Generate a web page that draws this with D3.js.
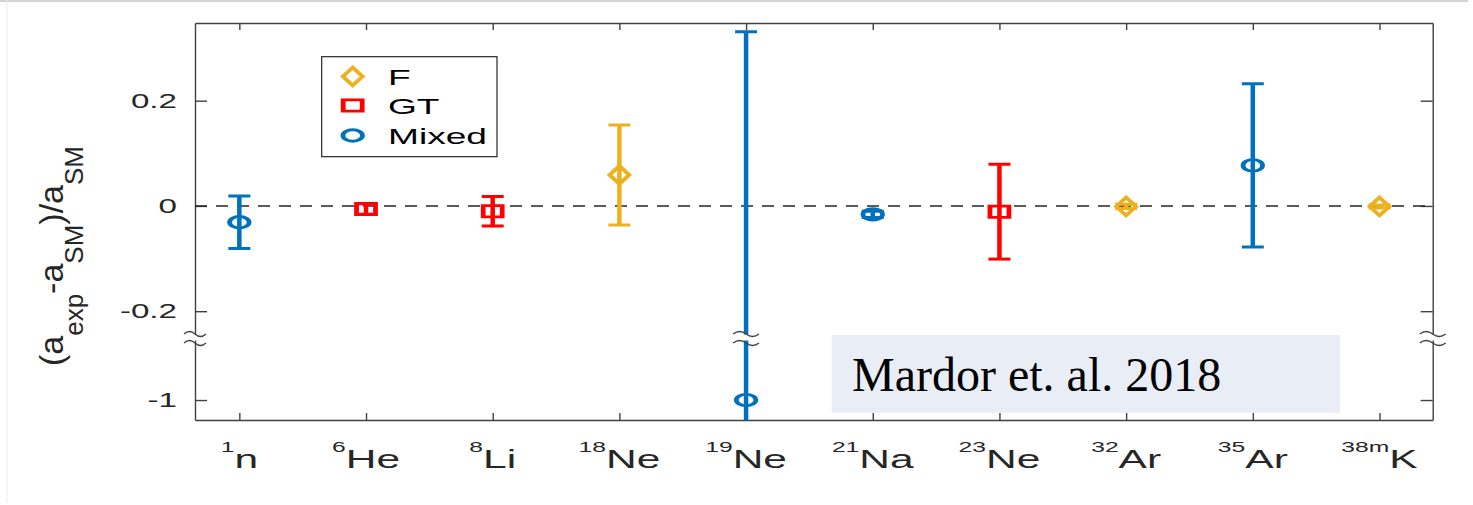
<!DOCTYPE html>
<html>
<head>
<meta charset="utf-8">
<script src="https://cdn.jsdelivr.net/npm/d3@7"></script>
<style>
  body { margin: 0; background: #fff; }
  text { font-family: "Liberation Sans", Arial, sans-serif; fill: #262626; }
</style>
</head>
<body>
<div id="chart"></div>
<script>
// ---- data ----
const massNumbers = ["1", "6", "8", "18", "19", "21", "23", "32", "35", "38m"];
const elements    = ["n", "He", "Li", "Ne", "Ne", "Na", "Ne", "Ar", "Ar", "K"];
const transitions = ["Mixed", "GT", "GT", "F", "Mixed", "Mixed", "GT", "F", "Mixed", "F"];
const values      = [-0.031, -0.006, -0.010, 0.059, -1.0, -0.016, -0.011, -0.001, 0.077, -0.001];
const errors      = [0.050, 0.010, 0.028, 0.095, 1.331, 0.006, 0.090, 0.004, 0.155, 0.003];

const yTicks      = [-1, -0.2, 0, 0.2];
const yTickLabels = ["-1", "-0.2", "0", "0.2"];
const legendItems = ["F", "GT", "Mixed"];

// ---- config ----
const W = 1473, H = 505;
const plot = { left: 195, right: 1432.7, top: 23, bottom: 420 };
const SX = 1.7;             // the original figure is stretched horizontally
const breakY = 337.5;       // axis break
const colors = { F: "#EDB120", GT: "#FF0000", Mixed: "#0072BD" };
const axisColor = "#404040";

const svg = d3.select("#chart").append("svg")
    .attr("width", W).attr("height", H)
    .style("display", "block");

svg.append("rect").attr("width", W).attr("height", H).attr("fill", "#fff");
// faint slide frame
svg.append("line").attr("x1", 0).attr("x2", 1468).attr("y1", 1).attr("y2", 1)
    .attr("stroke", "#c4c4c4").attr("stroke-width", 1.5);
svg.append("line").attr("x1", 7).attr("x2", 7).attr("y1", 0).attr("y2", 503)
    .attr("stroke", "#ececec").attr("stroke-width", 1);

// ---- scales ----
const x = d3.scaleLinear().domain([0.65, 10.42]).range([plot.left, plot.right]);
// broken y axis: lower panel around -1, upper panel -0.25..0.35
const y = d3.scaleLinear()
    .domain([-1.038, -0.881, -0.25, 0.3476])
    .range([plot.bottom, breakY, breakY, plot.top]);

svg.append("clipPath").attr("id", "plotclip")
  .append("rect")
    .attr("x", plot.left).attr("y", plot.top)
    .attr("width", plot.right - plot.left).attr("height", plot.bottom - plot.top);

// ---- axes ----
function styleAxis(g) {
    g.select(".domain").attr("stroke", axisColor).attr("stroke-width", 1.4);
    g.selectAll(".tick line").attr("stroke", axisColor).attr("stroke-width", 1.4);
    g.selectAll(".tick text").remove();
}
const idx = d3.range(1, 11);
svg.append("g").attr("transform", `translate(0,${plot.bottom})`)
    .call(d3.axisBottom(x).tickValues(idx).tickSize(-7).tickSizeOuter(0)).call(styleAxis);
svg.append("g").attr("transform", `translate(0,${plot.top})`)
    .call(d3.axisTop(x).tickValues(idx).tickSize(-7).tickSizeOuter(0)).call(styleAxis);
svg.append("g").attr("transform", `translate(${plot.left},0)`)
    .call(d3.axisLeft(y).tickValues(yTicks).tickSize(-12).tickSizeOuter(0)).call(styleAxis);
svg.append("g").attr("transform", `translate(${plot.right},0)`)
    .call(d3.axisRight(y).tickValues(yTicks).tickSize(-12).tickSizeOuter(0)).call(styleAxis);

// zero reference line
svg.append("line")
    .attr("x1", plot.left).attr("x2", plot.right)
    .attr("y1", y(0)).attr("y2", y(0))
    .attr("stroke", "#262626").attr("stroke-width", 1.5)
    .attr("stroke-dasharray", "12,9");

// y tick labels
yTicks.forEach((v, i) => {
    svg.append("text")
        .attr("transform", `translate(177,${y(v) + 7}) scale(${SX},1)`)
        .attr("text-anchor", "end")
        .style("font-size", "19.5px")
        .text(yTickLabels[i]);
});

// x tick labels with superscript mass numbers
idx.forEach((d, i) => {
    const t = svg.append("text")
        .attr("transform", `translate(${x(d)},468) scale(${SX},1)`)
        .attr("text-anchor", "middle");
    t.append("tspan").attr("dy", -16).style("font-size", "14.5px").text(massNumbers[i]);
    t.append("tspan").attr("dy", 16).style("font-size", "25px").text(elements[i]);
});

// y axis title
const yl = svg.append("text")
    .attr("transform", "translate(63,256) rotate(-90)")
    .attr("text-anchor", "middle")
    .style("font-size", "34px");
yl.append("tspan").text("(a");
yl.append("tspan").attr("dy", 20).style("font-size", "26px").text("exp");
yl.append("tspan").attr("dy", -20).text("-a");
yl.append("tspan").attr("dy", 20).style("font-size", "26px").text("SM");
yl.append("tspan").attr("dy", -20).text(")/a");
yl.append("tspan").attr("dy", 20).style("font-size", "26px").text("SM");

// ---- markers ----
const markerPath = {
    F: "M0,-9L5.8,0L0,9L-5.8,0Z",
    GT: d3.symbol().type(d3.symbolSquare).size(125)(),
    Mixed: d3.symbol().type(d3.symbolCircle).size(104)()
};

// ---- data: error bars + markers ----
const data = idx.map((d, i) => ({ i: d, v: values[i], e: errors[i], type: transitions[i] }));
const dataG = svg.append("g").attr("clip-path", "url(#plotclip)");

dataG.selectAll(".ebar").data(data).enter().append("line")
    .attr("class", "ebar")
    .attr("x1", d => x(d.i)).attr("x2", d => x(d.i))
    .attr("y1", d => y(d.v - d.e)).attr("y2", d => y(d.v + d.e))
    .attr("stroke", d => colors[d.type]).attr("stroke-width", 4.5);

["lo", "hi"].forEach(side => {
    dataG.selectAll(".cap-" + side).data(data).enter().append("line")
        .attr("class", "cap-" + side)
        .attr("x1", d => x(d.i) - 11).attr("x2", d => x(d.i) + 11)
        .attr("y1", d => y(side === "lo" ? d.v - d.e : d.v + d.e))
        .attr("y2", d => y(side === "lo" ? d.v - d.e : d.v + d.e))
        .attr("stroke", d => colors[d.type]).attr("stroke-width", 3);
});

dataG.selectAll(".mark").data(data).enter().append("path")
    .attr("class", "mark")
    .attr("transform", d => `translate(${x(d.i)},${y(d.v)}) scale(${SX},1)`)
    .attr("d", d => markerPath[d.type])
    .attr("fill", "none")
    .attr("stroke", d => colors[d.type])
    .attr("stroke-width", 2.8);

// ---- axis break symbols ----
function drawBreak(cx, half) {
    const g = svg.append("g");
    g.append("rect").attr("x", cx - half).attr("y", breakY - 3)
        .attr("width", half * 2).attr("height", 6).attr("fill", "#fff");
    [breakY - 4.5, breakY + 4.5].forEach(yy => {
        g.append("path")
            .attr("d", `M${cx - half},${yy + 1} q${half / 2},-5 ${half},0 t${half},0`)
            .attr("fill", "none").attr("stroke", axisColor).attr("stroke-width", 1.3);
    });
}
drawBreak(plot.left, 11);
drawBreak(plot.right, 13);
drawBreak(x(5), 13);

// ---- legend ----
const lg = svg.append("g");
lg.append("rect")
    .attr("x", 321.7).attr("y", 56.7).attr("width", 175.3).attr("height", 100)
    .attr("fill", "#fff").attr("stroke", "#262626").attr("stroke-width", 1.2);
const legendRowY = [76.5, 105.5, 135.5];
legendItems.forEach((k, i) => {
    lg.append("path")
        .attr("transform", `translate(352.7,${legendRowY[i]}) scale(${SX},1)`)
        .attr("d", markerPath[k])
        .attr("fill", "none").attr("stroke", colors[k]).attr("stroke-width", 2.8);
    lg.append("text")
        .attr("transform", `translate(388,${legendRowY[i] + 8}) scale(${SX * 0.97},1)`)
        .style("font-size", "22.5px")
        .style("fill", "#000")
        .text(k);
});

// ---- citation box ----
svg.append("rect")
    .attr("x", 831.7).attr("y", 335).attr("width", 508.3).attr("height", 77.7)
    .attr("fill", "#e9edf6");
svg.append("text")
    .attr("x", 852).attr("y", 391)
    .style("font-family", "'Liberation Serif', 'Times New Roman', serif")
    .style("font-size", "48px")
    .style("fill", "#000")
    .text("Mardor et. al. 2018");
</script>
</body>
</html>
